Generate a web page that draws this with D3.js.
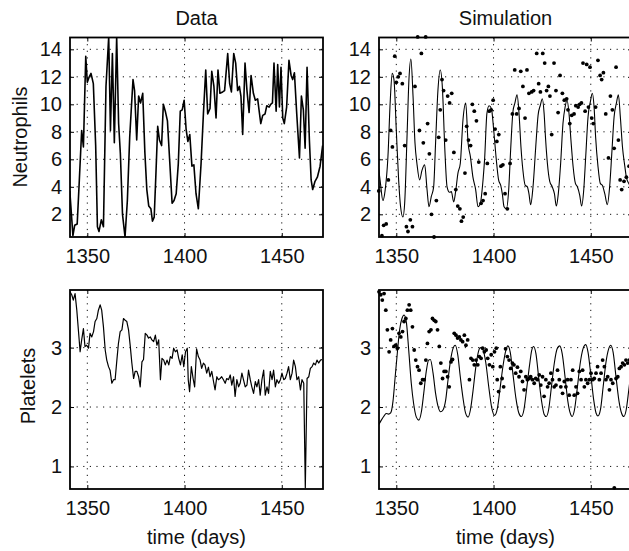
<!DOCTYPE html>
<html lang="en">
<head>
<meta charset="UTF-8">
<title>Neutrophils and platelets: data vs simulation</title>
<script src="https://d3js.org/d3.v7.min.js"></script>
<style>
  body { margin: 0; background: #fff; }
  svg { display: block; font-family: "Liberation Sans", Arial, Helvetica, sans-serif; }
  .grid line { stroke: #111; stroke-width: 1; stroke-dasharray: 1.2,5.4; }
  .axis text { font-size: 20px; fill: #111; }
  .axis line { stroke: #000; stroke-width: 1; }
  .axis path { display: none; }
  .box { fill: none; stroke: #000; stroke-width: 1.8; }
  .label { font-size: 20px; fill: #111; }
</style>
</head>
<body>
<svg width="629" height="551"></svg>
<script>
// ticks
const xTicks = [1350, 1400, 1450];
const neutTicks = [2, 4, 6, 8, 10, 12, 14];
const platTicks = [1, 2, 3];

// neutrophil measurements (days, counts)
const neutDays = [1341.0,1342.6,1343.5,1344.8,1345.9,1347.1,1348.0,1349.2,1350.0,1351.0,1351.9,1353.1,1354.3,1355.2,1356.0,1357.2,1358.3,1359.6,1361.0,1361.9,
  1362.9,1363.9,1365.1,1366.1,1367.0,1368.1,1369.4,1370.6,1371.8,1372.6,1373.5,1374.3,1375.4,1376.4,1377.4,1378.5,1379.6,1380.6,1381.6,1382.7,
  1383.5,1384.4,1385.3,1386.2,1387.1,1388.2,1389.1,1390.1,1391.2,1392.4,1393.6,1394.6,1395.7,1396.8,1397.8,1398.8,1399.8,1400.8,1401.7,1402.7,
  1403.8,1404.8,1405.9,1407.1,1408.5,1409.7,1410.9,1411.9,1413.1,1414.0,1415.1,1416.2,1417.2,1418.2,1419.6,1420.6,1422.2,1423.2,1424.1,1425.3,
  1426.3,1427.3,1428.2,1429.0,1429.9,1431.1,1432.1,1433.2,1434.2,1435.4,1436.4,1437.6,1438.3,1439.2,1440.2,1441.4,1442.3,1443.5,1444.3,1445.2,
  1446.0,1447.1,1447.9,1448.8,1449.6,1450.5,1451.3,1452.5,1453.7,1454.8,1455.6,1456.5,1457.7,1459.1,1460.1,1461.1,1462.0,1463.0,1464.2,1465.1,
  1465.9,1467.1,1468.3,1469.7,1471.0];
const neutVals = [3.7,0.45,1.2,1.3,4.5,8.1,6.9,13.5,11.6,12.0,12.25,11.5,7.0,1.1,0.75,1.6,1.1,11.3,14.9,8.1,
  13.7,7.2,14.9,8.6,6.4,2.0,0.35,3.0,7.6,9.6,11.8,11.0,7.4,10.6,10.1,10.8,6.5,3.8,2.6,2.4,
  1.5,1.8,5.0,8.4,7.4,7.0,10.0,9.5,8.8,5.8,2.8,3.0,3.5,5.7,9.5,9.6,10.3,8.2,7.3,7.8,
  5.5,5.6,3.5,2.4,5.7,9.3,12.5,9.3,9.7,12.4,11.3,9.0,12.5,10.8,10.9,11.0,13.7,11.5,10.9,13.7,
  13.0,11.0,11.3,10.6,7.8,13.0,11.0,9.4,12.1,10.8,10.3,10.4,9.6,8.6,9.2,9.3,9.9,9.8,10.0,10.1,
  13.0,9.5,12.9,9.8,12.7,9.0,8.6,9.8,13.2,12.1,11.8,12.3,9.3,6.1,10.6,9.6,6.8,12.7,7.4,4.5,
  3.8,4.4,4.7,5.5,7.0];

// neutrophil simulation
const neutSimDays = [1340.9,1341.8,1343.1,1344.3,1345.7,1346.9,1347.9,1348.8,1350.0,1351.2,1352.2,1353.4,1354.3,1355.5,1356.5,1357.5,1358.6,1359.6,1360.6,1362.0,
  1363.2,1364.6,1365.8,1366.8,1368.0,1369.2,1370.2,1371.4,1372.6,1373.7,1374.9,1376.1,1377.4,1378.3,1379.5,1380.5,1381.7,1382.9,1384.3,1385.7,
  1386.9,1388.1,1389.4,1390.8,1392.0,1393.2,1394.6,1395.4,1396.6,1397.7,1398.9,1400.1,1401.4,1402.6,1403.7,1404.5,1405.4,1406.6,1407.8,1408.8,
  1410.0,1411.0,1412.1,1413.1,1414.1,1415.1,1416.3,1417.4,1418.2,1419.1,1420.3,1421.7,1422.9,1424.1,1425.1,1426.0,1426.8,1427.7,1428.9,1430.2,
  1431.3,1432.3,1433.3,1434.5,1435.7,1436.8,1437.8,1438.8,1439.8,1440.9,1442.1,1443.1,1444.3,1445.3,1446.4,1447.4,1448.6,1449.8,1450.8,1451.7,
  1452.5,1453.7,1454.9,1456.0,1457.2,1458.5,1459.7,1460.8,1462.0,1463.2,1464.2,1465.2,1466.3,1467.5,1468.3,1469.5,1471.2];
const neutSimVals = [5.35,4.3,3.0,3.8,6.2,10.3,12.25,11.8,8.1,4.5,2.55,1.8,2.8,7.6,11.8,13.3,10.6,7.2,5.7,4.5,
  5.2,5.6,3.8,2.55,3.3,4.0,7.2,11.0,12.5,11.2,6.9,4.0,3.6,3.65,2.9,3.65,5.0,5.7,8.9,10.1,
  7.2,6.2,4.7,3.8,2.55,2.8,4.5,6.0,9.35,9.9,9.7,8.1,6.0,4.5,4.1,3.5,2.55,2.4,3.8,6.7,
  9.5,10.1,10.7,9.35,6.9,5.2,4.1,4.0,3.5,2.7,4.0,6.9,9.2,9.95,10.4,9.35,7.4,5.7,4.4,4.0,
  3.5,2.6,3.5,5.7,8.6,9.8,10.3,9.35,7.4,5.5,4.25,4.0,3.4,2.6,3.8,6.2,9.1,10.2,10.8,9.8,
  7.6,5.5,4.25,4.1,3.5,2.7,4.0,6.4,9.1,10.1,10.7,9.1,6.9,5.5,4.7,4.25,3.9];

// platelet measurements
const platDays = [1341.1,1342.0,1342.8,1343.7,1344.6,1345.4,1346.3,1347.1,1348.0,1348.8,1349.7,1350.6,1351.4,1352.3,1353.2,1354.0,1354.9,1355.7,1356.6,1357.4,
  1358.3,1359.2,1360.0,1360.9,1361.7,1362.6,1363.5,1364.3,1365.2,1366.0,1366.9,1367.8,1368.6,1369.5,1370.3,1371.2,1372.1,1372.9,1373.8,1374.6,
  1375.5,1376.4,1377.2,1378.1,1378.9,1379.8,1380.7,1381.5,1382.4,1383.2,1384.1,1385.0,1385.8,1386.7,1387.6,1388.4,1389.3,1390.1,1391.0,1391.9,
  1392.7,1393.6,1394.4,1395.3,1396.2,1397.0,1397.9,1398.8,1399.6,1400.5,1401.4,1401.9,1402.6,1403.5,1404.4,1405.2,1406.2,1407.1,1408.0,1408.8,
  1409.7,1410.5,1411.4,1412.3,1413.1,1414.0,1414.9,1415.7,1416.6,1417.4,1418.3,1419.1,1420.0,1420.9,1421.7,1422.6,1423.5,1424.3,1425.2,1426.0,
  1426.9,1427.8,1428.6,1429.5,1430.3,1431.2,1432.1,1432.9,1433.8,1434.6,1435.5,1436.4,1437.2,1438.1,1438.9,1439.8,1440.7,1441.5,1442.4,1443.2,
  1444.1,1445.0,1445.8,1446.7,1447.5,1448.4,1449.3,1450.1,1451.0,1451.8,1452.7,1453.5,1454.4,1455.3,1456.1,1457.0,1457.8,1458.7,1459.6,1460.4,
  1461.3,1462.1,1463.0,1463.9,1464.7,1465.6,1466.4,1467.3,1468.1,1469.0,1469.9,1470.7];
const platVals = [3.94,3.89,3.80,3.91,3.63,3.30,2.93,3.13,3.32,3.02,3.04,2.99,3.24,3.18,3.27,3.44,3.49,3.63,3.72,3.63,
  3.35,2.96,2.79,2.68,2.62,2.40,2.46,2.46,2.79,3.07,3.27,3.30,3.49,3.46,3.44,3.30,3.02,2.74,2.48,2.60,
  2.60,2.51,2.34,2.76,2.80,3.24,3.21,3.16,3.18,3.13,3.10,3.21,3.04,3.13,2.46,2.82,2.79,2.71,2.79,2.71,
  2.85,2.82,2.99,2.93,2.96,2.82,2.71,2.88,2.68,2.93,2.99,2.46,2.26,2.68,2.48,2.34,2.98,2.85,2.79,2.65,
  2.74,2.71,2.57,2.67,2.51,2.60,2.43,2.29,2.51,2.46,2.48,2.51,2.46,2.40,2.48,2.46,2.54,2.37,2.51,2.18,
  2.46,2.34,2.40,2.57,2.46,2.34,2.37,2.62,2.46,2.34,2.23,2.43,2.34,2.46,2.20,2.46,2.62,2.20,2.34,2.23,
  2.60,2.46,2.62,2.34,2.46,2.40,2.46,2.57,2.46,2.48,2.57,2.68,2.46,2.57,2.79,2.68,2.46,2.51,2.29,2.46,
  2.40,0.64,2.48,2.51,2.65,2.68,2.74,2.71,2.79,2.74,2.79,2.80];

// platelet simulation
const platSimDays = [1340.9,1342.3,1343.5,1344.8,1346.0,1347.1,1348.3,1349.4,1350.5,1351.7,1352.9,1354.0,1355.2,1356.4,1357.7,1358.9,1360.3,1361.6,1362.9,1364.1,
  1365.4,1366.6,1367.5,1368.9,1370.2,1371.4,1372.8,1374.0,1375.4,1376.6,1377.9,1379.1,1380.3,1381.6,1382.9,1384.3,1385.6,1386.9,1388.1,1389.4,
  1390.8,1392.0,1393.2,1394.6,1396.0,1397.5,1399.0,1400.6,1402.0,1403.5,1405.0,1406.3,1407.4,1408.6,1410.0,1411.5,1413.0,1414.3,1415.6,1417.0,
  1418.5,1419.6,1420.6,1421.8,1423.2,1424.7,1426.0,1427.1,1428.3,1429.8,1431.3,1432.7,1434.0,1435.3,1436.8,1438.2,1439.4,1440.4,1441.6,1443.0,
  1444.5,1446.0,1447.4,1448.6,1450.0,1451.5,1452.7,1453.7,1455.0,1456.4,1457.8,1459.2,1460.3,1461.5,1463.0,1464.5,1465.8,1467.0,1468.2,1469.6,1471.2];
const platSimVals = [1.70,1.78,1.84,1.89,1.88,1.90,2.10,2.50,2.90,3.30,3.49,3.55,3.42,2.95,2.40,2.06,1.83,1.78,1.92,2.23,
  2.60,2.79,2.80,2.57,2.23,2.02,1.92,1.95,2.12,2.46,2.79,2.98,3.04,2.88,2.51,2.15,1.90,1.83,1.95,2.26,
  2.65,2.90,3.00,2.96,2.75,2.35,2.00,1.86,1.98,2.35,2.72,2.95,3.03,2.92,2.55,2.15,1.90,1.84,1.95,2.30,
  2.70,2.95,3.02,2.90,2.50,2.10,1.88,1.84,1.95,2.35,2.75,2.98,3.03,2.90,2.50,2.10,1.90,1.84,1.95,2.30,
  2.72,2.98,3.05,2.92,2.55,2.12,1.90,1.85,1.96,2.35,2.75,2.98,3.04,2.92,2.50,2.10,1.90,1.84,1.95,2.30,2.72];

const svg = d3.select("svg");
const xDomain = [1341.1, 1471.2];
const panelW = 253;
const colLeft = [70, 379];
const intFmt = d3.format("d");
let clipCount = 0;

function drawPanel(left, top, h, yDomain, yTicks, opts) {
    const x = d3.scaleLinear().domain(xDomain).range([0, panelW]);
    const y = d3.scaleLinear().domain(yDomain).range([h, 0]);
    const g = svg.append("g").attr("transform", `translate(${left},${top})`);

    const clipId = "clip" + (clipCount++);
    g.append("clipPath").attr("id", clipId)
        .append("rect").attr("width", panelW).attr("height", h);

    // dotted grid
    const grid = g.append("g").attr("class", "grid");
    grid.selectAll(".gx").data(xTicks).join("line").attr("class", "gx")
        .attr("x1", d => x(d)).attr("x2", d => x(d)).attr("y1", 0).attr("y2", h);
    grid.selectAll(".gy").data(yTicks).join("line").attr("class", "gy")
        .attr("x1", 0).attr("x2", panelW).attr("y1", d => y(d)).attr("y2", d => y(d));

    const plot = g.append("g").attr("clip-path", `url(#${clipId})`);

    if (opts.line) {
        plot.append("path")
            .datum(d3.zip(opts.line[0], opts.line[1]))
            .attr("fill", "none").attr("stroke", "#000")
            .attr("stroke-width", opts.lineWidth)
            .attr("stroke-linejoin", "round")
            .attr("d", d3.line().x(d => x(d[0])).y(d => y(d[1])).curve(opts.curve || d3.curveLinear));
    }

    if (opts.dots) {
        g.append("g").selectAll("circle")
            .data(d3.zip(opts.dots[0], opts.dots[1]))
            .join("circle")
            .attr("cx", d => x(d[0])).attr("cy", d => y(d[1]))
            .attr("r", 1.9).attr("fill", "#000");
    }

    // axes with inward ticks
    g.append("g").attr("class", "axis").attr("transform", `translate(0,${h})`)
        .call(d3.axisBottom(x).tickValues(xTicks).tickFormat(intFmt)
            .tickSizeInner(-4).tickSizeOuter(0).tickPadding(12));
    g.append("g").attr("class", "axis")
        .call(d3.axisTop(x).tickValues(xTicks).tickSizeInner(-4).tickSizeOuter(0).tickFormat(""));
    g.append("g").attr("class", "axis")
        .call(d3.axisLeft(y).tickValues(yTicks).tickFormat(intFmt)
            .tickSizeInner(-4).tickSizeOuter(0).tickPadding(8));
    g.append("g").attr("class", "axis").attr("transform", `translate(${panelW},0)`)
        .call(d3.axisRight(y).tickValues(yTicks).tickSizeInner(-4).tickSizeOuter(0).tickFormat(""));
    g.selectAll(".axis").attr("font-size", null).attr("font-family", null);

    g.append("rect").attr("class", "box").attr("width", panelW).attr("height", h);
}

const neutDomain = [0.35, 14.86];
const platDomain = [0.62, 3.97];

drawPanel(colLeft[0], 37.5, 199.5, neutDomain, neutTicks,
    {line: [neutDays, neutVals], lineWidth: 1.6});
drawPanel(colLeft[1], 37.5, 199.5, neutDomain, neutTicks,
    {line: [neutSimDays, neutSimVals], lineWidth: 1.1, curve: d3.curveMonotoneX, dots: [neutDays, neutVals]});
drawPanel(colLeft[0], 290, 199, platDomain, platTicks,
    {line: [platDays, platVals], lineWidth: 1.2});
drawPanel(colLeft[1], 290, 199, platDomain, platTicks,
    {line: [platSimDays, platSimVals], lineWidth: 1.1, curve: d3.curveMonotoneX, dots: [platDays, platVals]});

// titles and labels
svg.append("text").attr("class", "label").attr("x", 196.5).attr("y", 25)
    .attr("text-anchor", "middle").text("Data");
svg.append("text").attr("class", "label").attr("x", 505.5).attr("y", 25)
    .attr("text-anchor", "middle").text("Simulation");

svg.append("text").attr("class", "label")
    .attr("transform", "translate(27,137) rotate(-90)")
    .attr("text-anchor", "middle").text("Neutrophils");
svg.append("text").attr("class", "label")
    .attr("transform", "translate(35,386) rotate(-90)")
    .attr("text-anchor", "middle").text("Platelets");

svg.append("text").attr("class", "label").attr("x", 196.5).attr("y", 544)
    .attr("text-anchor", "middle").text("time (days)");
svg.append("text").attr("class", "label").attr("x", 505.5).attr("y", 544)
    .attr("text-anchor", "middle").text("time (days)");
</script>
</body>
</html>
